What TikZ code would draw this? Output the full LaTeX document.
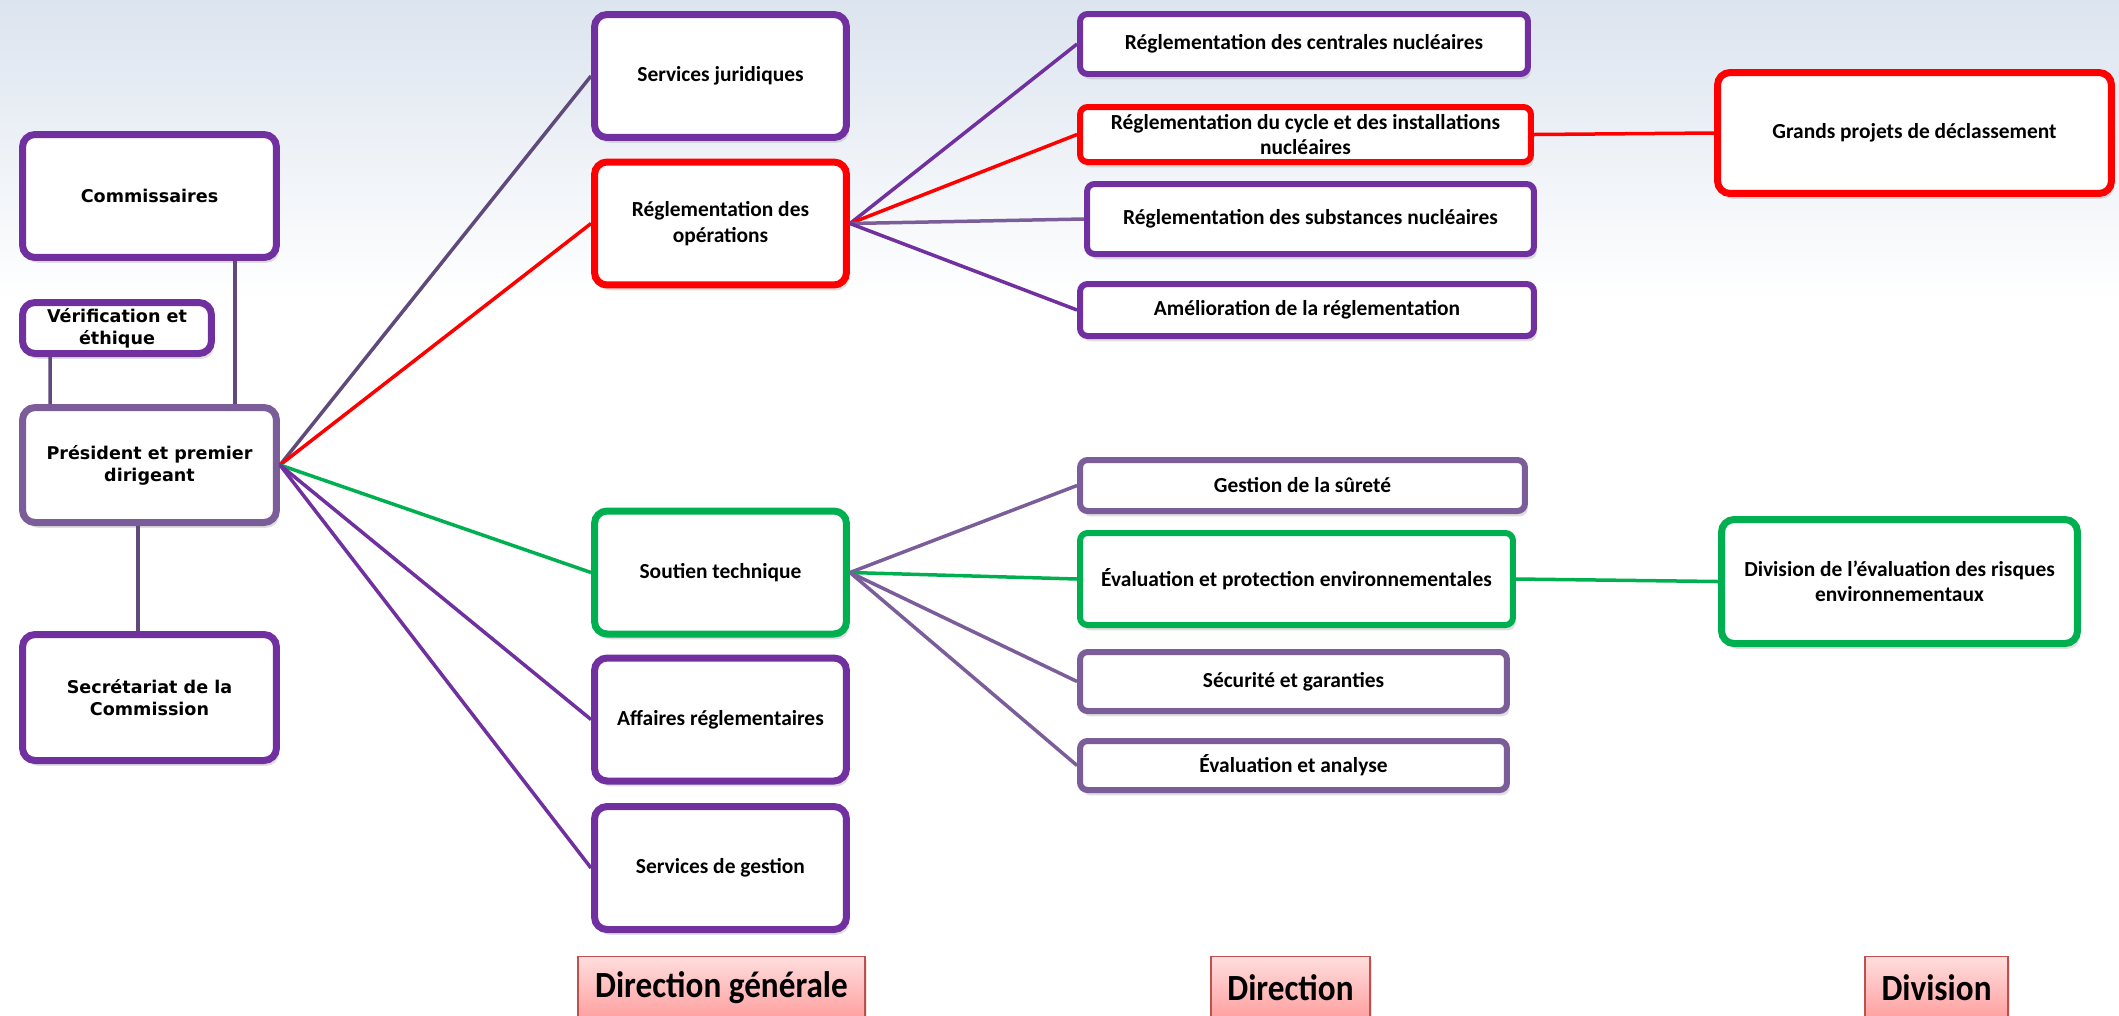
\documentclass[tikz,border=0pt]{standalone}
\usepackage{fontspec}
\setmainfont{Carlito}
\newfontfamily\leftfont{DejaVu Sans}
\newfontfamily\tagfont[FakeStretch=0.9]{Carlito}
\usepackage{tikz}
\definecolor{purp}{HTML}{7030A0}
\definecolor{greypurp}{HTML}{7B5E99}
\definecolor{darkpurp}{HTML}{604A7B}
\definecolor{rouge}{HTML}{FF0000}
\definecolor{vert}{HTML}{00B050}
\definecolor{tagline}{HTML}{C0504D}
\definecolor{sky}{HTML}{DCE4EF}
\usetikzlibrary{shadows}
\tikzset{fig/.style={
    rounded corners=0.25cm,
    line width=0.14cm,
    fill=white,
    align=center,
    inner sep=2pt,
    drop shadow={shadow xshift=1.5pt, shadow yshift=-3pt, opacity=0.25}},
  lft/.style={fig, font=\leftfont\bfseries\fontsize{10}{12.5}\selectfont},
  dg/.style={fig, minimum width=5.04cm, minimum height=2.46cm,
    font=\bfseries\fontsize{12.2}{14.5}\selectfont},
  dir/.style={fig, line width=0.12cm, rounded corners=0.15cm,
    font=\bfseries\fontsize{12.2}{14}\selectfont},
  div/.style={fig, font=\bfseries\fontsize{12.2}{14.5}\selectfont},
  tag/.style={draw=tagline, line width=1pt, top color=red!13,
    bottom color=red!38, minimum height=1.26cm, inner sep=0pt,
    font=\tagfont\bfseries\fontsize{21}{24}\selectfont,
    drop shadow={shadow xshift=1pt, shadow yshift=-2pt, opacity=0.2}},
  tie/.style={line width=0.07cm}}

\begin{document}
\begin{tikzpicture}[x=0.02cm, y=-0.02cm]
  \useasboundingbox[fill=white] (0,0) rectangle (2119,1015);
  \shade[top color=sky, bottom color=white] (0,0) rectangle (2119,300);

  % left column
\node[lft, draw=purp, minimum width=5.08cm, minimum height=2.46cm]
  (comm) at (149.5,196) {Commissaires};
\node[lft, draw=purp, minimum width=3.78cm, minimum height=1.02cm]
  (verif) at (117,328) {Vérification et\\éthique};
\node[lft, draw=greypurp, minimum width=5.08cm, minimum height=2.3cm]
  (pres) at (149.5,465) {Président et premier\\dirigeant};
\node[lft, draw=purp, minimum width=5.08cm, minimum height=2.52cm]
  (secr) at (149.5,697.5) {Secrétariat de la\\Commission};

  % direction generale
\node[dg, draw=purp] (sj) at (720.5,76) {Services juridiques};
\node[dg, draw=rouge] (ro) at (720.5,223.5) {Réglementation des\\opérations};
\node[dg, draw=vert] (st) at (720.5,572.5) {Soutien technique};
\node[dg, draw=purp] (ar) at (720.5,719.5) {Affaires réglementaires};
\node[dg, draw=purp] (sg) at (720.5,868) {Services de gestion};

  % directions
\node[dir, draw=purp, minimum width=8.96cm, minimum height=1.2cm]
  (cent) at (1304,44) {Réglementation des centrales nucléaires};
\node[dir, draw=rouge, minimum width=9.02cm, minimum height=1.1cm]
  (cycle) at (1305.5,134.5) {Réglementation du cycle et des installations\\nucléaires};
\node[dir, draw=purp, minimum width=8.94cm, minimum height=1.4cm]
  (subst) at (1310.5,219) {Réglementation des substances nucléaires};
\node[dir, draw=purp, minimum width=9.08cm, minimum height=1.04cm]
  (amel) at (1307,310) {Amélioration de la réglementation};
\node[dir, draw=greypurp, minimum width=8.9cm, minimum height=1.02cm]
  (gest) at (1302.5,485.5) {Gestion de la sûreté};
\node[dir, draw=vert, minimum width=8.66cm, minimum height=1.84cm]
  (evalp) at (1296.5,579) {Évaluation et protection environnementales};
\node[dir, draw=greypurp, minimum width=8.54cm, minimum height=1.18cm]
  (secu) at (1293.5,681.5) {Sécurité et garanties};
\node[dir, draw=greypurp, minimum width=8.54cm, minimum height=0.98cm]
  (evala) at (1293.5,765.5) {Évaluation et analyse};

  % divisions
\node[div, draw=rouge, minimum width=7.88cm, minimum height=2.42cm]
  (gpd) at (1914.5,133) {Grands projets de déclassement};
\node[div, draw=vert, minimum width=7.12cm, minimum height=2.48cm]
  (dera) at (1899.5,581.5) {Division de l’évaluation des risques\\environnementaux};

  % level tags
\node[tag, minimum width=5.74cm] (tdg) at (721.5,988) {Direction générale};
\node[tag, minimum width=3.18cm] (tdir) at (1290.5,988) {Direction};
\node[tag, minimum width=2.86cm] (tdiv) at (1936.5,988) {Division};

  % connectors
\draw[tie, darkpurp] ([xshift=1.71cm]comm.south) -- ([xshift=1.71cm]pres.north);
\draw[tie, darkpurp] ([xshift=-1.34cm]verif.south) -- ([xshift=-1.99cm]pres.north);
\draw[tie, darkpurp] ([xshift=-0.23cm]pres.south) -- ([xshift=-0.23cm]secr.north);

\draw[tie, darkpurp] (pres.east) -- (sj.west);
\draw[tie, rouge] (pres.east) -- (ro.west);
\draw[tie, vert] (pres.east) -- (st.west);
\draw[tie, purp] (pres.east) -- (ar.west);
\draw[tie, purp] (pres.east) -- (sg.west);

\draw[tie, purp] (ro.east) -- (cent.west);
\draw[tie, rouge] (ro.east) -- (cycle.west);
\draw[tie, greypurp] (ro.east) -- (subst.west);
\draw[tie, purp] (ro.east) -- (amel.west);

\draw[tie, greypurp] (st.east) -- (gest.west);
\draw[tie, vert] (st.east) -- (evalp.west);
\draw[tie, greypurp] (st.east) -- (secu.west);
\draw[tie, greypurp] (st.east) -- (evala.west);

\draw[tie, rouge] (cycle.east) -- (gpd.west);
\draw[tie, vert] (evalp.east) -- (dera.west);

\end{tikzpicture}
\end{document}
